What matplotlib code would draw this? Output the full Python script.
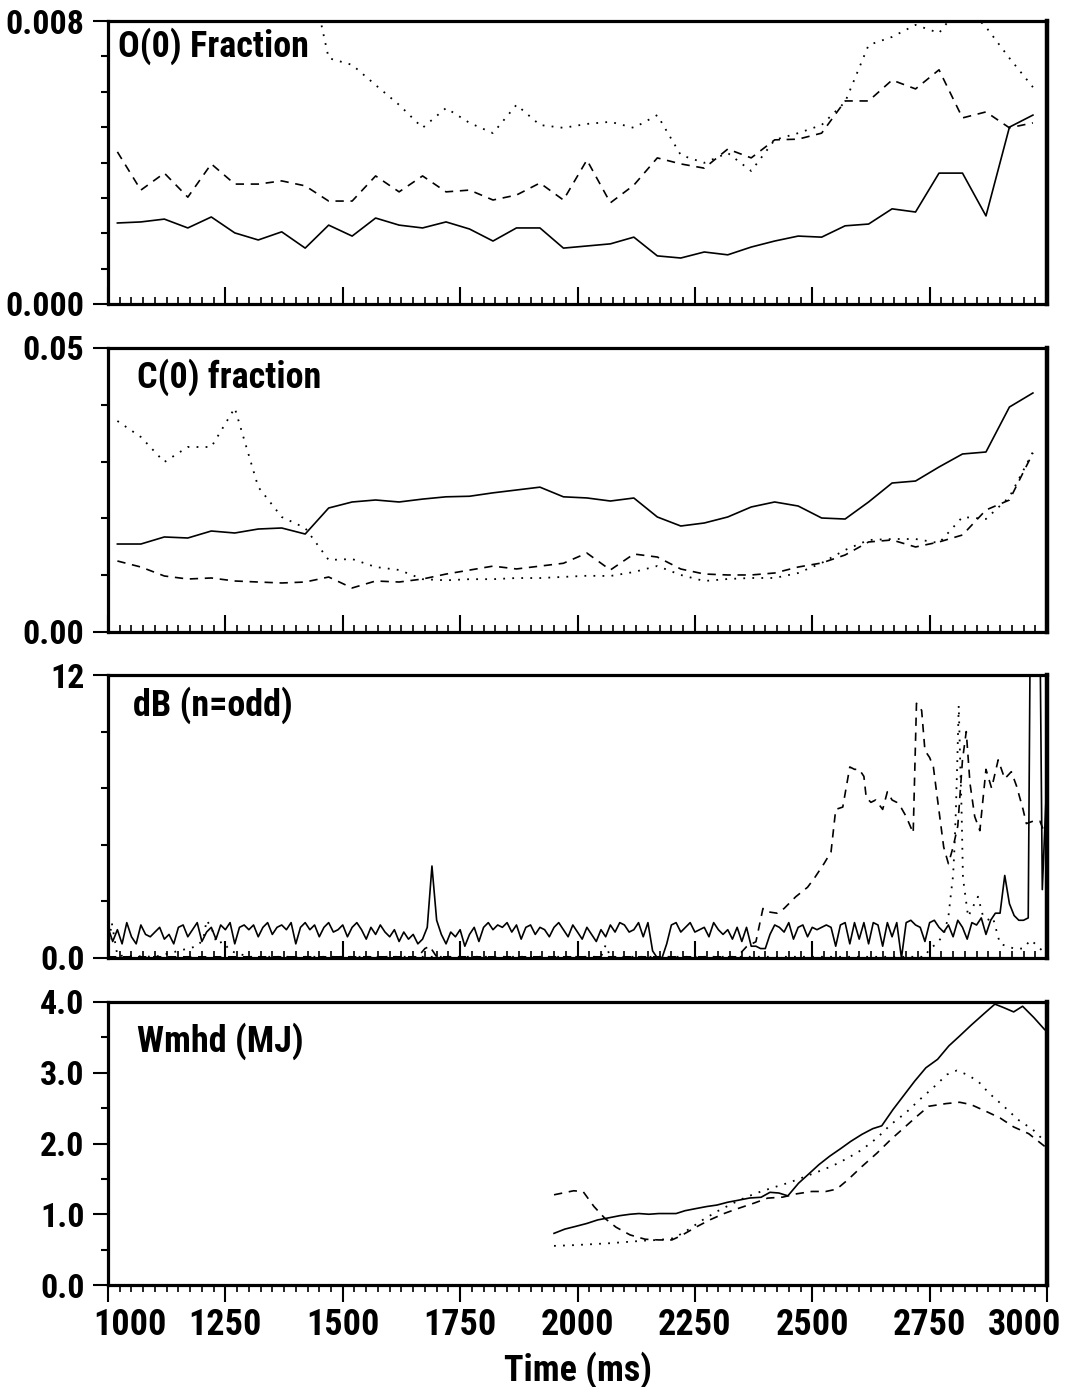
import matplotlib
matplotlib.use('Agg')
import matplotlib.pyplot as plt
import matplotlib.transforms as mtransforms
from matplotlib import font_manager
from matplotlib.font_manager import FontProperties

# time grid of the impurity fractions (ms)
t_frac = list(range(1020, 3000, 50))

# O(0) fraction
o_solid = [0.00229, 0.00232, 0.00240, 0.00215, 0.00246, 0.00201, 0.00181, 0.00204, 0.00158, 0.00223,
           0.00192, 0.00243, 0.00223, 0.00215, 0.00232, 0.00212, 0.00178, 0.00215, 0.00215, 0.00158,
           0.00164, 0.00170, 0.00189, 0.00136, 0.00130, 0.00147, 0.00139, 0.00161, 0.00178, 0.00192,
           0.00189, 0.00221, 0.00226, 0.00269, 0.00260, 0.00370, 0.00370, 0.00249, 0.00500, 0.00534]
o_dash = [0.00430, 0.00322, 0.00370, 0.00302, 0.00396, 0.00339, 0.00339, 0.00348, 0.00334, 0.00291,
          0.00291, 0.00362, 0.00317, 0.00362, 0.00317, 0.00322, 0.00294, 0.00308, 0.00342, 0.00294,
          0.00407, 0.00286, 0.00336, 0.00413, 0.00396, 0.00384, 0.00438, 0.00413, 0.00464, 0.00466,
          0.00483, 0.00574, 0.00574, 0.00633, 0.00608, 0.00662, 0.00526, 0.00543, 0.00498, 0.00512]
o_dot = [0.0105, 0.0110, 0.0108, 0.0112, 0.0115, 0.0110, 0.0106, 0.0103, 0.0100, 0.00695,
         0.00676, 0.00619, 0.00563, 0.00498, 0.00554, 0.00512, 0.00483, 0.00563, 0.00506, 0.00498,
         0.00509, 0.00515, 0.00498, 0.00534, 0.00421, 0.00399, 0.00427, 0.00376, 0.00464, 0.00483,
         0.00506, 0.00571, 0.00732, 0.00755, 0.00789, 0.00766, 0.0085, 0.00783, 0.00695, 0.00613]

# C(0) fraction
c_solid = [0.01549, 0.01549, 0.01673, 0.01655, 0.01778, 0.01743, 0.01813, 0.01831, 0.01725, 0.02183,
           0.02289, 0.02324, 0.02289, 0.0234, 0.0238, 0.0239, 0.0245, 0.0250, 0.0255, 0.0238,
           0.0236, 0.02306, 0.02359, 0.02025, 0.01866, 0.01919, 0.02025, 0.02201, 0.02289, 0.02218,
           0.02007, 0.01989, 0.02289, 0.02623, 0.02658, 0.02905, 0.03134, 0.03169, 0.03961, 0.04208]
c_dash = [0.0125, 0.01144, 0.00986, 0.00933, 0.00951, 0.00898, 0.0088, 0.00863, 0.0088, 0.00968,
          0.00775, 0.00898, 0.0088, 0.00933, 0.0102, 0.0109, 0.0116, 0.0111, 0.0116, 0.0121,
          0.0139, 0.01092, 0.01373, 0.0132, 0.01109, 0.01021, 0.01004, 0.01004, 0.01039, 0.01144,
          0.01215, 0.01356, 0.01585, 0.0162, 0.01497, 0.01585, 0.01708, 0.02148, 0.02324, 0.03151]
c_dot = [0.03715, 0.03433, 0.02993, 0.03257, 0.03257, 0.03944, 0.02553, 0.02025, 0.01831, 0.01268,
         0.01285, 0.01144, 0.01092, 0.0093, 0.0091, 0.0093, 0.0093, 0.0095, 0.0095, 0.0097,
         0.0099, 0.00986, 0.01056, 0.01162, 0.01004, 0.00898, 0.00933, 0.00951, 0.00951, 0.01039,
         0.01215, 0.01444, 0.0162, 0.01637, 0.01637, 0.01567, 0.02025, 0.0199, 0.02377, 0.03169]

# dB (n=odd), solid trace on a 10 ms grid
t_db = list(range(1000, 3001, 10))
db_solid = [1.3, 0.7, 1.2, 0.6, 1.5, 0.9, 0.6, 1.4, 1.0, 0.9,
            1.1, 1.3, 0.8, 1.0, 0.6, 1.3, 1.4, 0.9, 1.2, 1.5,
            0.7, 1.1, 1.3, 0.8, 1.4, 1.2, 1.5, 0.6, 1.3, 1.4,
            1.2, 1.4, 0.9, 1.3, 1.5, 1.0, 1.3, 1.4, 1.2, 1.5,
            0.6, 1.3, 1.5, 1.2, 1.4, 0.9, 1.3, 1.5, 1.1, 1.2,
            1.4, 0.9, 1.3, 1.5, 1.2, 0.8, 1.3, 1.0, 1.4, 1.1,
            0.9, 1.2, 0.7, 1.1, 0.8, 1.0, 0.6, 0.8, 1.3, 3.9,
            1.6, 1.0, 0.6, 1.1, 0.9, 1.2, 0.5, 1.0, 1.3, 0.7,
            1.3, 1.5, 1.2, 1.4, 1.3, 1.5, 1.1, 1.4, 0.8, 1.3,
            1.4, 1.0, 1.3, 1.2, 0.9, 1.3, 1.5, 1.2, 0.9, 1.4,
            1.1, 0.8, 1.3, 1.0, 0.7, 1.2, 0.9, 1.4, 1.1, 1.5,
            1.4, 1.1, 1.2, 1.5, 0.9, 1.5, 0.3, 0.0, 0.0, 0.6,
            1.4, 1.5, 1.1, 1.3, 1.5, 1.1, 1.2, 1.3, 0.9, 1.5,
            1.2, 1.0, 1.2, 0.8, 1.3, 0.7, 1.3, 0.5, 0.5, 0.4,
            0.4, 1.0, 1.4, 1.3, 1.1, 1.5, 0.8, 1.3, 1.4, 0.9,
            1.3, 1.2, 1.3, 1.4, 1.3, 0.5, 1.4, 1.5, 0.6, 1.5,
            0.8, 1.5, 0.6, 1.5, 1.4, 0.5, 1.5, 0.9, 1.5, 0.0,
            1.5, 1.6, 1.4, 1.3, 0.7, 1.5, 1.6, 1.3, 1.1, 1.4,
            0.9, 1.6, 1.3, 0.8, 1.5, 1.4, 1.7, 1.0, 1.6, 1.9,
            1.9, 3.5, 2.3, 1.8, 1.6, 1.6, 1.7, 30.0, 25.0, 2.9,
            7.8]
t_db_dash = [1000, 1660, 1675, 1685, 1700, 2340, 2360, 2380, 2395, 2405,
             2425, 2440, 2465, 2490, 2505, 2525, 2540, 2550, 2565, 2580,
             2590, 2600, 2610, 2615, 2625, 2635, 2650, 2660, 2670, 2680,
             2690, 2700, 2715, 2722, 2733, 2740, 2750, 2758, 2765, 2780,
             2790, 2800, 2810, 2820, 2828, 2836, 2846, 2857, 2870, 2882,
             2896, 2910, 2924, 2935, 2949, 2956, 2970, 2985, 2995]
db_dash = [0.05, 0.05, 0.4, 0.5, 0.05, 0.05, 0.48, 0.69, 2.1, 1.96,
           1.9, 2.1, 2.6, 3.0, 3.4, 4.0, 4.5, 6.3, 6.4, 8.1,
           8.0, 8.0, 7.7, 6.8, 6.6, 6.7, 6.3, 7.05, 6.7, 6.6,
           6.35, 6.0, 5.3, 10.8, 10.5, 8.8, 8.5, 8.1, 7.0, 4.7,
           4.0, 4.7, 5.6, 8.4, 9.6, 7.4, 6.0, 5.4, 8.0, 7.2,
           8.4, 7.6, 7.9, 7.3, 6.3, 5.7, 5.8, 5.8, 5.3]
t_db_dot = [1000, 1008, 1020, 1100, 1190, 1203, 1210, 1220, 1232, 1245,
            1260, 1300, 2050, 2060, 2070, 2740, 2750, 2765, 2780, 2790,
            2795, 2800, 2803, 2806, 2809, 2812, 2815, 2818, 2821, 2832,
            2843, 2853, 2864, 2878, 2885, 2900, 2930, 2949, 2965, 2978,
            3000]
db_dot = [0.4, 1.5, 0.1, 0.05, 0.5, 0.8, 1.6, 1.3, 0.6, 0.7,
          0.3, 0.05, 0.05, 0.55, 0.05, 0.05, 0.4, 0.6, 1.0, 1.75,
          2.65, 3.5, 4.7, 6.3, 8.4, 10.7, 8.4, 6.3, 3.4, 1.75,
          2.2, 2.6, 1.75, 1.6, 1.7, 0.6, 0.4, 0.4, 0.76, 0.55,
          0.1]

# Wmhd (MJ)
t_w_solid = [1950, 1973, 1997, 2020, 2043, 2067, 2090, 2112, 2131, 2152,
             2173, 2210, 2229, 2252, 2276, 2297, 2320, 2344, 2367, 2391,
             2410, 2429, 2448, 2471, 2491, 2514, 2537, 2561, 2582, 2606,
             2629, 2648, 2672, 2695, 2718, 2742, 2767, 2791, 2814, 2838,
             2865, 2889, 2908, 2929, 2948, 2972, 2995]
w_solid = [0.73, 0.79, 0.83, 0.87, 0.92, 0.95, 0.98, 1.00, 1.01, 1.00,
           1.01, 1.01, 1.05, 1.08, 1.11, 1.13, 1.17, 1.20, 1.23, 1.24,
           1.31, 1.30, 1.26, 1.44, 1.56, 1.70, 1.82, 1.93, 2.03, 2.13,
           2.21, 2.25, 2.48, 2.68, 2.88, 3.07, 3.19, 3.38, 3.52, 3.67,
           3.83, 3.97, 3.92, 3.86, 3.94, 3.78, 3.61]
t_w_dash = [1950, 1992, 2012, 2035, 2058, 2082, 2112, 2144, 2173, 2201,
            2220, 2252, 2282, 2314, 2344, 2376, 2405, 2437, 2467, 2499,
            2529, 2552, 2576, 2606, 2638, 2667, 2699, 2723, 2748, 2785,
            2814, 2838, 2870, 2900, 2929, 2961, 2995]
w_dash = [1.275, 1.332, 1.32, 1.11, 0.944, 0.817, 0.708, 0.647, 0.637, 0.637,
          0.694, 0.817, 0.921, 1.015, 1.086, 1.157, 1.228, 1.242, 1.289, 1.322,
          1.322, 1.355, 1.488, 1.676, 1.865, 2.054, 2.243, 2.385, 2.526, 2.564,
          2.583, 2.55, 2.455, 2.361, 2.234, 2.139, 1.96]
t_w_dot = [1950, 1988, 2029, 2067, 2106, 2144, 2173, 2205, 2235, 2267,
           2297, 2329, 2359, 2391, 2420, 2452, 2482, 2514, 2544, 2576,
           2606, 2638, 2667, 2699, 2729, 2761, 2787, 2808, 2829, 2853,
           2876, 2908, 2938, 2970, 2995]
w_dot = [0.553, 0.562, 0.576, 0.59, 0.609, 0.628, 0.637, 0.661, 0.779, 0.921,
         1.039, 1.148, 1.242, 1.322, 1.384, 1.45, 1.525, 1.606, 1.686, 1.795,
         1.913, 2.078, 2.267, 2.432, 2.621, 2.81, 2.975, 3.032, 2.975, 2.881,
         2.715, 2.526, 2.338, 2.196, 2.031]

x_ticks = [1000, 1250, 1500, 1750, 2000, 2250, 2500, 2750, 3000]

# look for a narrow / condensed bold face, else shrink the normal bold one
narrow = None
for key in ('LiberationSansNarrow-Bold', 'ArialNarrow', 'Arial Narrow', 'RobotoCondensed-Bold',
            'DejaVuSansCondensed-Bold', 'Condensed-Bold', 'CondensedBold'):
    for f in font_manager.fontManager.ttflist:
        if key.lower() in f.fname.replace(' ', '').lower() or key.lower() in f.fname.lower():
            narrow = f.fname
            break
    if narrow:
        break
if narrow and 'DejaVu' not in narrow:
    fp = FontProperties(fname=narrow, size=26)
    fp_y = FontProperties(fname=narrow, size=24.5)
else:
    fp = FontProperties(family='Liberation Sans', weight='bold', size=22)
    fp_y = FontProperties(family='Liberation Sans', weight='bold', size=21)
plt.rcParams['font.family'] = ['Liberation Sans', 'DejaVu Sans']
plt.rcParams['font.weight'] = 'bold'

fig = plt.figure(figsize=(10.68, 13.87), dpi=100)
W, H = 1068.0, 1387.0
left, right = 108, 1047
panels = [(21, 304), (348, 632), (675, 958), (1002, 1285)]
axes = []
for top, bot in panels:
    ax = fig.add_axes([left / W, 1 - bot / H, (right - left) / W, (bot - top) / H])
    axes.append(ax)

sol = dict(color='black', lw=1.2, ls='-')
dsh = dict(color='black', lw=1.2, ls=(0, (5, 4)))
dot = dict(color='black', lw=1.3, ls=(0, (1, 4)))

ax1, ax2, ax3, ax4 = axes
ax1.plot(t_frac, o_dot, **dot)
ax1.plot(t_frac, o_dash, **dsh)
ax1.plot(t_frac, o_solid, **sol)
ax2.plot(t_frac, c_dot, **dot)
ax2.plot(t_frac, c_dash, **dsh)
ax2.plot(t_frac, c_solid, **sol)
ax3.plot(t_db_dot, db_dot, **dot)
ax3.plot(t_db_dash, db_dash, **dsh)
ax3.plot(t_db, db_solid, **sol)
ax4.plot(t_w_dot, w_dot, **dot)
ax4.plot(t_w_dash, w_dash, **dsh)
ax4.plot(t_w_solid, w_solid, **sol)

ylims = [(0, 0.008), (0, 0.05), (0, 12), (0, 4.0)]
ymaj = [[0, 0.008], [0, 0.05], [0, 12], [0, 1, 2, 3, 4]]
ylab = [['0.000', '0.008'], ['0.00', '0.05'], ['0.0', '12'], ['0.0', '1.0', '2.0', '3.0', '4.0']]
ymin = [[0.001 * i for i in range(1, 8)], [0.01, 0.02, 0.03, 0.04],
        [2.4, 4.8, 7.2, 9.6], [0.5, 1.5, 2.5, 3.5]]
titles = ['O(0) Fraction', 'C(0) fraction', 'dB (n=odd)', 'Wmhd (MJ)']
tpos = [(0.011, 0.912), (0.031, 0.898), (0.027, 0.894), (0.031, 0.862)]

for i, ax in enumerate(axes):
    ax.set_xlim(1000, 3000)
    ax.set_ylim(*ylims[i])
    ax.set_xticks(x_ticks)
    ax.set_xticks(list(range(1000, 3001, 25)), minor=True)
    ax.set_yticks(ymaj[i])
    ax.set_yticklabels(ylab[i], fontproperties=fp_y)
    ax.set_yticks(ymin[i], minor=True)
    for s in ax.spines.values():
        s.set_linewidth(2.3)
    ax.spines['right'].set_linewidth(3.2)
    xdir = 'out' if i == 3 else 'in'
    ax.tick_params(axis='x', which='major', direction=xdir, length=12, width=1.5,
                   labelbottom=(i == 3), pad=4)
    ax.tick_params(axis='x', which='minor', direction=xdir, length=5, width=1.2)
    ax.tick_params(axis='y', which='major', direction='out', length=11, width=1.5, pad=6)
    ax.tick_params(axis='y', which='minor', direction='out', length=5, width=1.5)
    ax.text(tpos[i][0], tpos[i][1], titles[i], transform=ax.transAxes,
            ha='left', va='center', fontproperties=fp)

ax4.set_xticklabels([str(v) for v in x_ticks], fontproperties=fp)
ax4.set_xlabel('Time (ms)', fontproperties=fp, labelpad=6)
ticks = ax4.xaxis.get_major_ticks()
for tk, dx in ((ticks[0], 22), (ticks[-1], -22)):
    off = mtransforms.ScaledTranslation(dx / 100.0, 0, fig.dpi_scale_trans)
    tk.label1.set_transform(tk.label1.get_transform() + off)

fig.savefig('out.png', dpi=100)
